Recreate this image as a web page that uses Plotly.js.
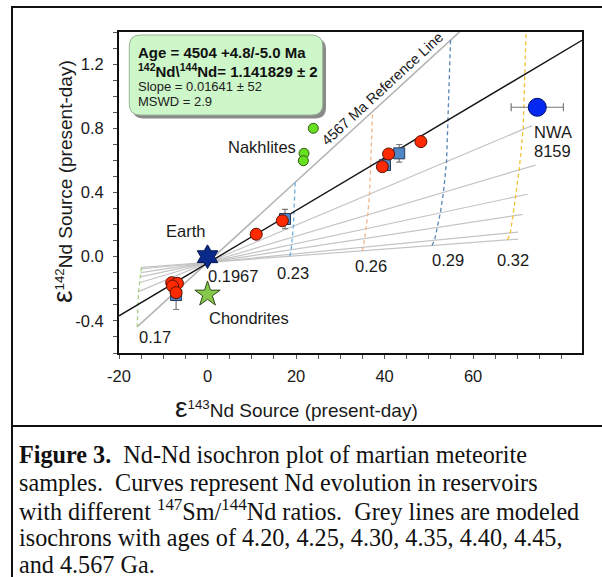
<!DOCTYPE html>
<html><head><meta charset="utf-8">
<script src="https://cdn.plot.ly/plotly-3.0.1.min.js"></script>
<style>html,body{margin:0;padding:0;background:#fff}#chart{width:602px;height:577px}</style>
</head><body><div id="chart"></div>
<script>
// ---------------- data ----------------
const isoAges   = ['4.20','4.25','4.30','4.35','4.40','4.45','4.567'];
const isoSlopes = [0.00208, 0.0027, 0.00421, 0.00588, 0.00819, 0.01163, 0.02523];
const isoPivotY = -0.036;
const isoRightX = [70.2, 70.2, 71.2, 72.3, 74.1, 73.3, 60];
const curve017X = [-14.9, -15.0, -15.1, -15.2, -15.4, -15.6, -15.9];
const curve023X = [18.6, 18.7, 18.9, 19.0, 19.2, 19.4, 19.8];
const curve026X = [34.9, 35.2, 35.5, 35.8, 36.2, 36.6, 37.3];
const curve029X = [50.7, 51.3, 51.9, 52.6, 53.3, 54.0, 54.9];
const curve032X = [67.8, 68.4, 69.0, 69.6, 70.4, 71.3, 72.4];
const fitSlope = 0.01641, fitIntercept = -0.04;
const fitXEnds = [-20, 84.6];
const shergX = [48.2, 40.9, 39.5, 16.9, 11.0, -8.1, -6.8, -7.9, -7.1];
const shergY = [0.717, 0.640, 0.561, 0.224, 0.140, -0.162, -0.166, -0.183, -0.224];
const litX = [43.3, 40.1, 17.5, -7.1];
const litY = [0.644, 0.571, 0.235, -0.239];
const litErr = [0.055, 0.03, 0.06, 0.09];
const nakhliteX = [23.9, 21.8, 21.65];
const nakhliteY = [0.80, 0.644, 0.598];
const nwaX = [74.5], nwaY = [0.931], nwaXErr = [5.9];
const earthX = [0], earthY = [0];
const chondX = [0], chondY = [-0.234];
const xTickVals = [-20, 0, 20, 40, 60];
const xTickText = ['-20', '0', '20', '40', '60'];
const yTickVals = [-0.4, 0, 0.4, 0.8, 1.2];
const yTickText = ['-0.4', '0.0', '0.4', '0.8', '1.2'];

// ---------------- helpers ----------------
const SANS = 'Liberation Sans, Arial, sans-serif';
const SERIF = 'Liberation Serif, Times New Roman, serif';
const L = 119, T = 32, W = 463, H = 321;
const px2x = px => (px - L) / W;
const py2y = py => (T + H - py) / H;
const isoY = (i, x) => isoPivotY + isoSlopes[i] * x;

const traces = [];
// grey modeled isochrons
isoAges.forEach((a, i) => {
  const xs = [curve017X[i], isoRightX[i]];
  traces.push({x: xs, y: xs.map(x => isoY(i, x)), mode: 'lines', hoverinfo: 'skip',
    line: {color: i === 6 ? '#b4b4b4' : '#c4c4c4', width: i === 6 ? 1.6 : 1.2}});
});
// Sm/Nd evolution curves
const curves = [[curve017X, '#a6cf86'], [curve023X, '#6aaee0'], [curve026X, '#f2b48a'],
                [curve029X, '#5a86b6'], [curve032X, '#f2c234']];
curves.forEach(([cx, col]) => {
  traces.push({x: cx, y: cx.map((x, i) => isoY(i, x)), mode: 'lines', hoverinfo: 'skip',
    line: {color: col, width: 1.3, dash: '4px,3px'}});
});
// best fit isochron
traces.push({x: fitXEnds, y: fitXEnds.map(x => fitIntercept + fitSlope * x), mode: 'lines',
  line: {color: '#111', width: 1.4}});
// literature squares
traces.push({x: litX, y: litY, mode: 'markers',
  error_y: {type: 'data', array: litErr, color: '#7a7a7a', thickness: 1.2, width: 3},
  marker: {symbol: 'square', size: 11, color: '#4f86c6', line: {color: '#2a3a55', width: 1}}});
// shergottites
traces.push({x: shergX, y: shergY, mode: 'markers',
  marker: {symbol: 'circle', size: 12, color: '#ff2a00', line: {color: '#5a1000', width: 1}}});
// nakhlites
traces.push({x: nakhliteX, y: nakhliteY, mode: 'markers',
  marker: {symbol: 'circle', size: 10, color: '#66e020', line: {color: '#2d5a10', width: 1}}});
// NWA 8159
traces.push({x: nwaX, y: nwaY, mode: 'markers',
  error_x: {type: 'data', array: nwaXErr, color: '#777', thickness: 1.2, width: 4},
  marker: {symbol: 'circle', size: 18, color: '#0528f0', line: {color: '#001070', width: 1}}});
// Earth
traces.push({x: earthX, y: earthY, mode: 'markers',
  marker: {symbol: 'hexagram', size: 18, color: '#0a2a8a', line: {color: '#06184f', width: 1}}});
// Chondrites
traces.push({x: chondX, y: chondY, mode: 'markers',
  marker: {symbol: 'star', size: 19, color: '#86c84a', line: {color: '#2f4a18', width: 1}}});

// ---------------- shapes ----------------
function rrect(x0, y0, x1, y1, r) {
  const P = (x, y) => px2x(x).toFixed(5) + ',' + py2y(y).toFixed(5);
  return 'M' + P(x0 + r, y0) + ' L' + P(x1 - r, y0) + ' Q' + P(x1, y0) + ' ' + P(x1, y0 + r) +
    ' L' + P(x1, y1 - r) + ' Q' + P(x1, y1) + ' ' + P(x1 - r, y1) +
    ' L' + P(x0 + r, y1) + ' Q' + P(x0, y1) + ' ' + P(x0, y1 - r) +
    ' L' + P(x0, y0 + r) + ' Q' + P(x0, y0) + ' ' + P(x0 + r, y0) + ' Z';
}
const shapes = [
  {type: 'rect', xref: 'paper', yref: 'paper', x0: px2x(12), x1: px2x(612), y0: py2y(7), y1: py2y(426),
   line: {color: '#111', width: 2}, layer: 'below'},
  {type: 'line', xref: 'paper', yref: 'paper', x0: px2x(12), x1: px2x(12), y0: py2y(426), y1: py2y(590),
   line: {color: '#111', width: 2}},
  {type: 'path', xref: 'paper', yref: 'paper', path: rrect(132.5, 38.5, 326, 118.5, 11),
   fillcolor: 'rgba(60,60,60,0.6)', line: {width: 0}, layer: 'above'},
  {type: 'path', xref: 'paper', yref: 'paper', path: rrect(129.3, 35, 322.7, 115, 11),
   fillcolor: '#cdf6c9', line: {color: '#9ab59a', width: 1}, layer: 'above'},
];

// ---------------- annotations ----------------
function ann(px, py, text, o) {
  o = o || {};
  return Object.assign({xref: 'paper', yref: 'paper', x: px2x(px), y: py2y(py), text: text,
    showarrow: false, xanchor: 'center', yanchor: 'middle',
    font: {family: SANS, size: 16.5, color: '#1a1a1a'}}, o);
}
const annotations = [
  ann(136, 52.3, '<b>Age = 4504 +4.8/-5.0 Ma</b>', {xanchor: 'left', font: {family: SANS, size: 15, color: '#111'}}),
  ann(136, 70, '<b><sup>142</sup>Nd\\<sup>144</sup>Nd= 1.141829 ± 2</b>', {xanchor: 'left', font: {family: SANS, size: 15, color: '#111'}}),
  ann(136, 86.7, 'Slope = 0.01641 ± 52', {xanchor: 'left', font: {family: SANS, size: 13, color: '#222'}}),
  ann(136, 101.7, 'MSWD = 2.9', {xanchor: 'left', font: {family: SANS, size: 13, color: '#222'}}),
  ann(155, 337, '0.17'),
  ann(233, 276, '0.1967'),
  ann(293.3, 272.7, '0.23'),
  ann(370.7, 265.7, '0.26'),
  ann(448.3, 260, '0.29'),
  ann(513.3, 260, '0.32'),
  ann(185, 230.7, 'Earth'),
  ann(249, 318.3, 'Chondrites'),
  ann(261.7, 146.7, 'Nakhlites'),
  ann(552.7, 131.7, 'NWA'),
  ann(552.7, 151, '8159'),
  ann(382, 89, '4567 Ma Reference Line', {textangle: -42.6, font: {family: SANS, size: 14.5, color: '#1a1a1a'}}),
  ann(296, 407, '<span style="font-size:28px">ε</span><sup>143</sup>Nd Source (present-day)', {font: {family: SANS, size: 19, color: '#1a1a1a'}}),
  ann(62, 182, '<span style="font-size:28px">ε</span><sup>142</sup>Nd Source (present-day)', {textangle: -90, font: {family: SANS, size: 19, color: '#1a1a1a'}}),
];
const capLines = [
  '<b>Figure 3.</b>\u00a0 Nd-Nd isochron plot of martian meteorite',
  'samples.\u00a0 Curves represent Nd evolution in reservoirs',
  'with different <sup>147</sup>Sm/<sup>144</sup>Nd ratios.\u00a0 Grey lines are modeled',
  'isochrons with ages of 4.20, 4.25, 4.30, 4.35, 4.40, 4.45,',
  'and 4.567 Ga.'
];
const capY = [454.5, 482, 510, 537, 564.5];
capLines.forEach((t, i) => annotations.push(ann(17, capY[i], t,
  {xanchor: 'left', font: {family: SERIF, size: 24.2, color: '#111'}})));

const axisCommon = {showgrid: false, zeroline: false, showline: true, linecolor: '#111', linewidth: 2,
  mirror: true, ticks: 'outside', ticklen: 4, tickwidth: 1, tickcolor: '#555',
  tickfont: {family: SANS, size: 16.5, color: '#1a1a1a'}, fixedrange: true};

const layout = {
  width: 602, height: 577, margin: {l: L, r: 602 - L - W, t: T, b: 577 - T - H, pad: 0},
  paper_bgcolor: '#fff', plot_bgcolor: '#fff', showlegend: false,
  xaxis: Object.assign({}, axisCommon, {range: [-20, 84.6], tickmode: 'array', tickvals: xTickVals, ticktext: xTickText,
    ticklabelstandoff: 3, minor: {tick0: -20, dtick: 5, ticks: 'outside', ticklen: 4, tickcolor: '#555', tickwidth: 1}}),
  yaxis: Object.assign({}, axisCommon, {range: [-0.6, 1.4], tickmode: 'array', tickvals: yTickVals, ticktext: yTickText,
    ticklabelstandoff: 6, minor: {tick0: -0.6, dtick: 0.1, ticks: 'outside', ticklen: 4, tickcolor: '#555', tickwidth: 1}}),
  shapes: shapes, annotations: annotations
};
Plotly.newPlot('chart', traces, layout, {staticPlot: true, displayModeBar: false});
</script></body></html>
